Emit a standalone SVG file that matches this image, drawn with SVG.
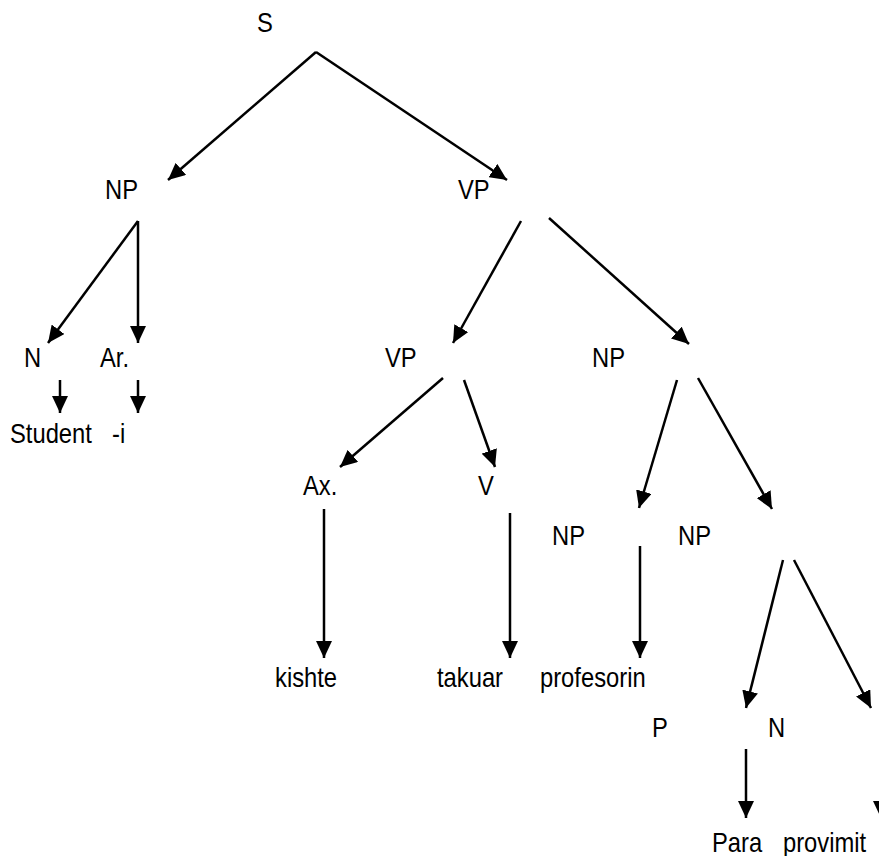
<svg xmlns="http://www.w3.org/2000/svg" width="879" height="856" viewBox="0 0 879 856">
  <style>
    .lbl { font-family: "Liberation Sans", Arial, sans-serif; font-size: 27px; fill: #000; }
    .edge { stroke: #000; stroke-width: 2.5; fill: none; marker-end: url(#arrow); }
  </style>
  <defs>
    <!-- solid triangular arrowhead, tip placed on the line end -->
    <marker id="arrow" viewBox="0 0 17 16" refX="17" refY="8" markerWidth="17" markerHeight="16" markerUnits="userSpaceOnUse" orient="auto">
      <path d="M0,0 L17,8 L0,16 z" fill="#000"/>
    </marker>
  </defs>
  <rect width="879" height="856" fill="#fff"/>

  <g id="connectors">
    <line class="edge" x1="316" y1="52" x2="168" y2="180"/>
    <line class="edge" x1="316" y1="52" x2="507" y2="180"/>
    <line class="edge" x1="138" y1="221" x2="48" y2="343"/>
    <line class="edge" x1="138" y1="221" x2="138" y2="343"/>
    <line class="edge" x1="60" y1="380" x2="60" y2="413"/>
    <line class="edge" x1="138" y1="380" x2="138" y2="413"/>
    <line class="edge" x1="521" y1="221" x2="453" y2="343"/>
    <line class="edge" x1="549" y1="218" x2="689" y2="344"/>
    <line class="edge" x1="443" y1="378" x2="340" y2="467"/>
    <line class="edge" x1="464" y1="380" x2="495" y2="467"/>
    <line class="edge" x1="677" y1="380" x2="639" y2="508"/>
    <line class="edge" x1="698" y1="378" x2="772" y2="509"/>
    <line class="edge" x1="324" y1="509" x2="324" y2="658"/>
    <line class="edge" x1="510" y1="513" x2="510" y2="658"/>
    <line class="edge" x1="640" y1="546" x2="640" y2="658"/>
    <line class="edge" x1="783" y1="560" x2="746" y2="708"/>
    <line class="edge" x1="794" y1="560" x2="871" y2="708"/>
    <line class="edge" x1="746" y1="749" x2="746" y2="818"/>
    <line class="edge" x1="881" y1="749" x2="881" y2="818"/>
  </g>

  <g id="n-s"><text class="lbl" transform="translate(257 32) scale(0.88 1)">S</text></g>
  <g id="n-np1"><text class="lbl" transform="translate(105 199) scale(0.88 1)">NP</text></g>
  <g id="n-vp1"><text class="lbl" transform="translate(458 199) scale(0.88 1)">VP</text></g>
  <g id="n-n1"><text class="lbl" transform="translate(24 367) scale(0.88 1)">N</text></g>
  <g id="n-ar"><text class="lbl" transform="translate(100 367) scale(0.88 1)">Ar.</text></g>
  <g id="n-student"><text class="lbl" transform="translate(10 443) scale(0.88 1)">Student</text></g>
  <g id="n-i"><text class="lbl" transform="translate(112 443) scale(0.88 1)">-i</text></g>
  <g id="n-vp2"><text class="lbl" transform="translate(385 367) scale(0.88 1)">VP</text></g>
  <g id="n-np2"><text class="lbl" transform="translate(592 367) scale(0.88 1)">NP</text></g>
  <g id="n-ax"><text class="lbl" transform="translate(303 495) scale(0.88 1)">Ax.</text></g>
  <g id="n-v"><text class="lbl" transform="translate(478 495) scale(0.88 1)">V</text></g>
  <g id="n-np3"><text class="lbl" transform="translate(552 545) scale(0.88 1)">NP</text></g>
  <g id="n-np4"><text class="lbl" transform="translate(678 545) scale(0.88 1)">NP</text></g>
  <g id="n-kishte"><text class="lbl" transform="translate(275 687) scale(0.88 1)">kishte</text></g>
  <g id="n-takuar"><text class="lbl" transform="translate(437 687) scale(0.88 1)">takuar</text></g>
  <g id="n-profesorin"><text class="lbl" transform="translate(540 687) scale(0.88 1)">profesorin</text></g>
  <g id="n-p"><text class="lbl" transform="translate(652 737) scale(0.88 1)">P</text></g>
  <g id="n-n2"><text class="lbl" transform="translate(768 737) scale(0.88 1)">N</text></g>
  <g id="n-para"><text class="lbl" transform="translate(712 852) scale(0.88 1)">Para</text></g>
  <g id="n-provimit"><text class="lbl" transform="translate(783 852) scale(0.88 1)">provimit</text></g>
</svg>
